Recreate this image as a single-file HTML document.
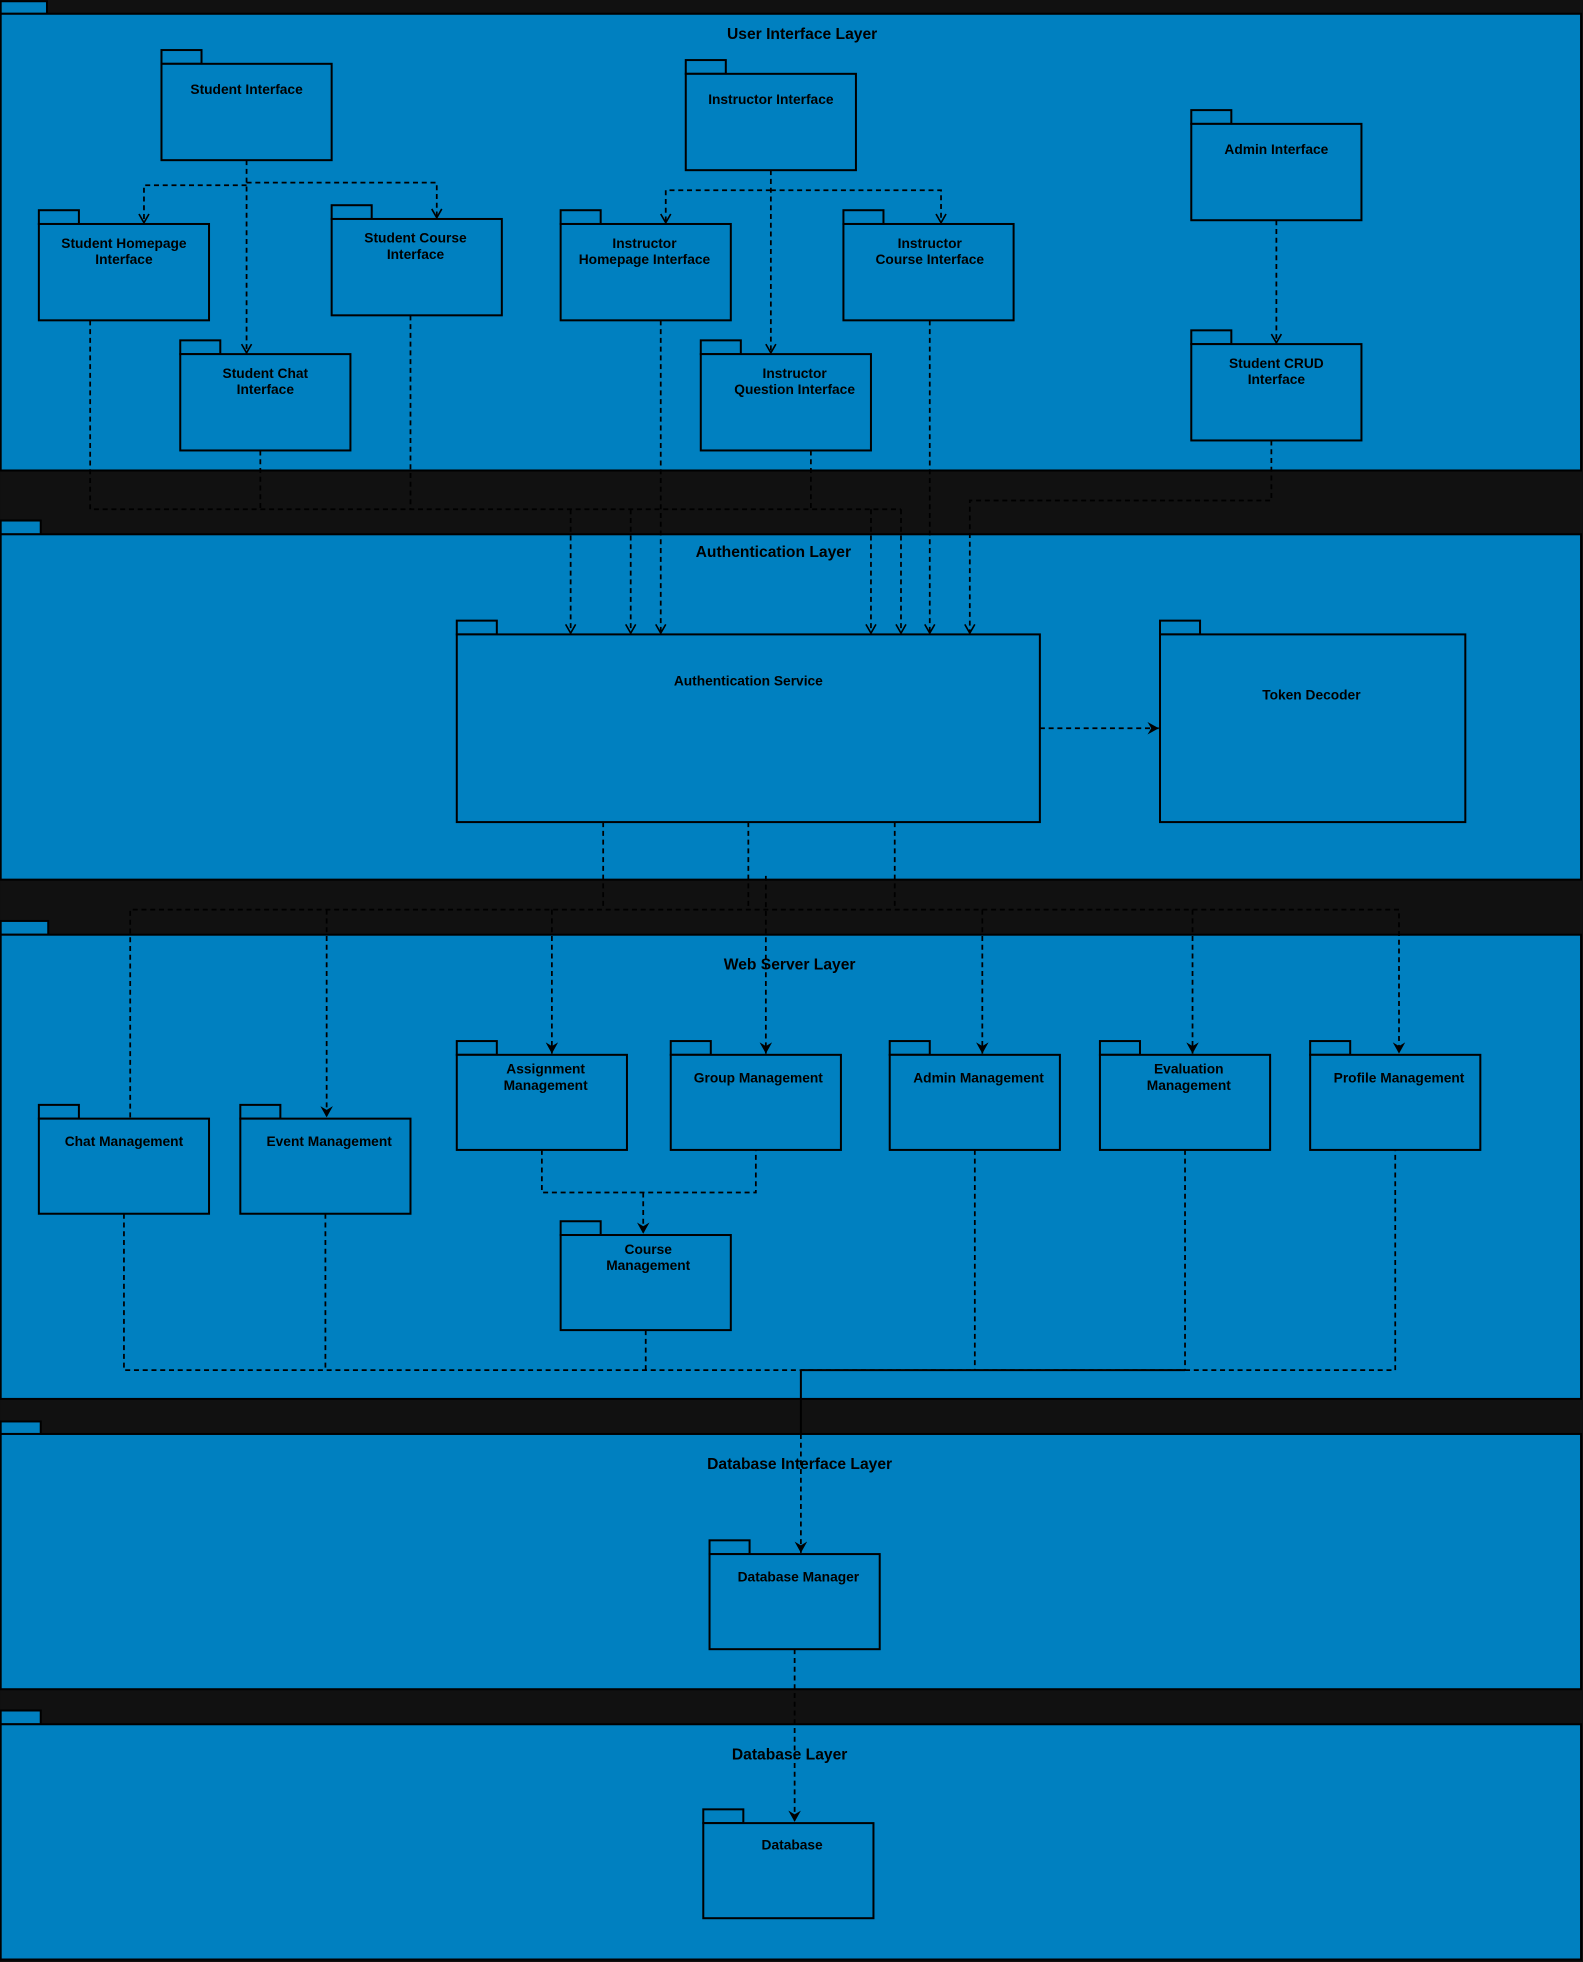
<!DOCTYPE html>
<html><head><meta charset="utf-8"><style>
html,body{margin:0;padding:0;background:#111;}
svg{display:block}
text{font-family:"Liberation Sans",Arial,sans-serif;font-weight:bold;font-size:11px;fill:#000;text-anchor:middle}
.t{font-size:12.5px}
.b{fill:#0080c0;stroke:#000;stroke-width:1.6}
.d{fill:none;stroke:#000;stroke-width:1.4;stroke-dasharray:4,3}
.s{fill:none;stroke:#000;stroke-width:1.6}
</style></head><body>
<svg width="1583" height="1962" viewBox="0 0 1265 1568" xmlns="http://www.w3.org/2000/svg">
<defs>
<marker id="a" markerWidth="10" markerHeight="10" refX="8" refY="5" orient="auto" markerUnits="userSpaceOnUse"><path d="M1,1 L8,5 L1,9" fill="none" stroke="#000" stroke-width="1.3"/></marker>
<marker id="f" markerWidth="10" markerHeight="10" refX="9" refY="5" orient="auto" markerUnits="userSpaceOnUse"><path d="M0,0 L9,5 L0,10 L3,5 Z" fill="#000"/></marker>
</defs>
<rect x="0" y="0" width="1265" height="1568" fill="#111"/>
<!-- layers -->
<rect class="b" x="0.5" y="1" width="37" height="10"/><rect class="b" x="0.5" y="11" width="1263" height="365"/>
<text class="t" x="641" y="31">User Interface Layer</text>
<rect class="b" x="0.5" y="416" width="32" height="11"/><rect class="b" x="0.5" y="427" width="1263" height="276"/>
<text class="t" x="618" y="445">Authentication Layer</text>
<rect class="b" x="0.5" y="736" width="38" height="11"/><rect class="b" x="0.5" y="747" width="1263" height="371"/>
<text class="t" x="631" y="775">Web Server Layer</text>
<rect class="b" x="0.5" y="1136" width="32" height="10"/><rect class="b" x="0.5" y="1146" width="1263" height="204"/>
<text class="t" x="639" y="1174">Database Interface Layer</text>
<rect class="b" x="0.5" y="1367" width="32" height="11"/><rect class="b" x="0.5" y="1378" width="1263" height="188"/>
<text class="t" x="631" y="1406">Database Layer</text>

<!-- packages -->
<g>
<rect class="b" x="129" y="40" width="32" height="11"/><rect class="b" x="129" y="51" width="136" height="77"/><text x="197" y="75">Student Interface</text>
<rect class="b" x="31" y="168" width="32" height="11"/><rect class="b" x="31" y="179" width="136" height="77"/><text x="99" y="198">Student Homepage</text><text x="99" y="211">Interface</text>
<rect class="b" x="265" y="164" width="32" height="11"/><rect class="b" x="265" y="175" width="136" height="77"/><text x="332" y="194">Student Course</text><text x="332" y="207">Interface</text>
<rect class="b" x="144" y="272" width="32" height="11"/><rect class="b" x="144" y="283" width="136" height="77"/><text x="212" y="302">Student Chat</text><text x="212" y="315">Interface</text>
<rect class="b" x="548" y="48" width="32" height="11"/><rect class="b" x="548" y="59" width="136" height="77"/><text x="616" y="83">Instructor Interface</text>
<rect class="b" x="448" y="168" width="32" height="11"/><rect class="b" x="448" y="179" width="136" height="77"/><text x="515" y="198">Instructor</text><text x="515" y="211">Homepage Interface</text>
<rect class="b" x="674" y="168" width="32" height="11"/><rect class="b" x="674" y="179" width="136" height="77"/><text x="743" y="198">Instructor</text><text x="743" y="211">Course Interface</text>
<rect class="b" x="560" y="272" width="32" height="11"/><rect class="b" x="560" y="283" width="136" height="77"/><text x="635" y="302">Instructor</text><text x="635" y="315">Question Interface</text>
<rect class="b" x="952" y="88" width="32" height="11"/><rect class="b" x="952" y="99" width="136" height="77"/><text x="1020" y="123">Admin Interface</text>
<rect class="b" x="952" y="264" width="32" height="11"/><rect class="b" x="952" y="275" width="136" height="77"/><text x="1020" y="294">Student CRUD</text><text x="1020" y="307">Interface</text>
<rect class="b" x="365" y="496" width="32" height="11"/><rect class="b" x="365" y="507" width="466" height="150"/><text x="598" y="548">Authentication Service</text>
<rect class="b" x="927" y="496" width="32" height="11"/><rect class="b" x="927" y="507" width="244" height="150"/><text x="1048" y="559">Token Decoder</text>
<rect class="b" x="365" y="832" width="32" height="11"/><rect class="b" x="365" y="843" width="136" height="76"/><text x="436" y="858">Assignment</text><text x="436" y="871">Management</text>
<rect class="b" x="536" y="832" width="32" height="11"/><rect class="b" x="536" y="843" width="136" height="76"/><text x="606" y="865">Group Management</text>
<rect class="b" x="711" y="832" width="32" height="11"/><rect class="b" x="711" y="843" width="136" height="76"/><text x="782" y="865">Admin Management</text>
<rect class="b" x="879" y="832" width="32" height="11"/><rect class="b" x="879" y="843" width="136" height="76"/><text x="950" y="858">Evaluation</text><text x="950" y="871">Management</text>
<rect class="b" x="1047" y="832" width="32" height="11"/><rect class="b" x="1047" y="843" width="136" height="76"/><text x="1118" y="865">Profile Management</text>
<rect class="b" x="31" y="883" width="32" height="11"/><rect class="b" x="31" y="894" width="136" height="76"/><text x="99" y="916">Chat Management</text>
<rect class="b" x="192" y="883" width="32" height="11"/><rect class="b" x="192" y="894" width="136" height="76"/><text x="263" y="916">Event Management</text>
<rect class="b" x="448" y="976" width="32" height="11"/><rect class="b" x="448" y="987" width="136" height="76"/><text x="518" y="1002">Course</text><text x="518" y="1015">Management</text>
<rect class="b" x="567" y="1231" width="32" height="11"/><rect class="b" x="567" y="1242" width="136" height="76"/><text x="638" y="1264">Database Manager</text>
<rect class="b" x="562" y="1446" width="32" height="11"/><rect class="b" x="562" y="1457" width="136" height="76"/><text x="633" y="1478">Database</text>
</g>

<!-- connectors UI -->
<path class="d" d="M197,128 V282" marker-end="url(#a)"/>
<path class="d" d="M197,148 H115 V178" marker-end="url(#a)"/>
<path class="d" d="M197,146 H349 V174" marker-end="url(#a)"/>
<path class="d" d="M616,136 V282" marker-end="url(#a)"/>
<path class="d" d="M616,152 H532 V178" marker-end="url(#a)"/>
<path class="d" d="M616,152 H752 V178" marker-end="url(#a)"/>
<path class="d" d="M1020,176 V274" marker-end="url(#a)"/>
<!-- to auth -->
<path class="d" d="M72,256 V407 H720"/>
<path class="d" d="M208,360 V407"/>
<path class="d" d="M328,252 V407"/>
<path class="d" d="M648,360 V407"/>
<path class="d" d="M456,407 V506" marker-end="url(#a)"/>
<path class="d" d="M504,407 V506" marker-end="url(#a)"/>
<path class="d" d="M528,256 V506" marker-end="url(#a)"/>
<path class="d" d="M696,407 V506" marker-end="url(#a)"/>
<path class="d" d="M720,407 V506" marker-end="url(#a)"/>
<path class="d" d="M743,256 V506" marker-end="url(#a)"/>
<path class="d" d="M1016,352 V400 H775 V506" marker-end="url(#a)"/>
<path class="d" d="M831,582 H926" marker-end="url(#f)"/>
<!-- auth to web -->
<path class="d" d="M482,657 V727"/>
<path class="d" d="M598,657 V727"/>
<path class="d" d="M715,657 V727"/>
<path class="d" d="M104,893 V727 H1118 V842" marker-end="url(#f)"/>
<path class="d" d="M261,727 V893" marker-end="url(#f)"/>
<path class="d" d="M441,727 V842" marker-end="url(#f)"/>
<path class="d" d="M612,700 V842" marker-end="url(#f)"/>
<path class="d" d="M785,727 V842" marker-end="url(#f)"/>
<path class="d" d="M953,727 V842" marker-end="url(#f)"/>
<path class="d" d="M433,919 V953 H604 V919"/>
<path class="d" d="M514,953 V986" marker-end="url(#f)"/>
<!-- web to db -->
<path class="d" d="M99,970 V1095 H1115 V919"/>
<path class="d" d="M260,970 V1095"/>
<path class="d" d="M516,1063 V1095"/>
<path class="d" d="M779,919 V1095"/>
<path class="d" d="M947,919 V1095"/>
<path class="s" d="M640,1095 V1146 M640,1095 H947"/>
<path class="d" d="M640,1146 V1241" marker-end="url(#f)"/>
<path class="d" d="M635,1318 V1456" marker-end="url(#f)"/>
</svg>
</body></html>
